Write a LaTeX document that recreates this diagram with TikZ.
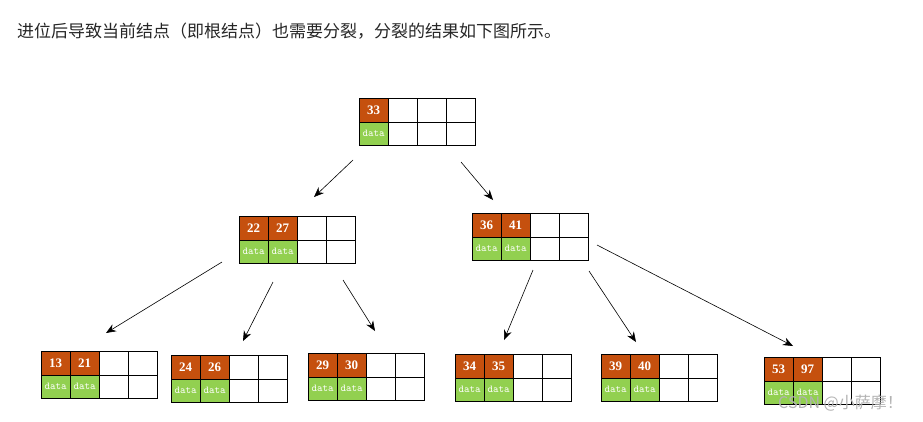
\documentclass[tikz,border=0pt]{standalone}
\usepackage{fontspec}
\usetikzlibrary{arrows.meta}
\newfontfamily\cjk{Noto Sans CJK SC}
\setmainfont{Liberation Serif}
\begin{document}
\begin{tikzpicture}[x=1pt,y=-1pt,
  keycell/.style={draw=black,fill=keyor,minimum width=29pt,minimum height=23.5pt,inner sep=0pt,text=white,font=\fontsize{13}{13}\selectfont\bfseries,anchor=north west},
  datacell/.style={draw=black,fill=datagr,minimum width=29pt,minimum height=23.5pt,inner sep=0pt,text=white,font=\fontsize{10.5}{10.5}\selectfont\ttfamily,anchor=north west},
  emptycell/.style={draw=black,fill=white,minimum width=29pt,minimum height=23.5pt,inner sep=0pt,anchor=north west},
  frame/.style={draw=black,line width=1pt,minimum width=116pt,minimum height=47pt,inner sep=0pt,anchor=north west},
  arr/.style={-{Stealth[length=10pt,width=8pt]},line width=0.6pt}]
\definecolor{keyor}{HTML}{C5500E}
\definecolor{datagr}{HTML}{92D050}
\useasboundingbox (0,0) rectangle (923,421);
\fill[white] (0,0) rectangle (923,421);
\node[anchor=west,font=\cjk\fontsize{17}{17}\selectfont,text=black!85,inner sep=0pt] (title) at (17,31) {进位后导致当前结点（即根结点）也需要分裂，分裂的结果如下图所示。};
\newcommand{\btnode}[6]{%
  \node[keycell] (#1k1) at (#2,#3) {#5};
  \ifnum#4>1 \node[keycell] (#1k2) at (#2+29,#3) {#6};\else\node[emptycell] (#1k2) at (#2+29,#3) {};\fi
  \node[emptycell] (#1k3) at (#2+58,#3) {};
  \node[emptycell] (#1k4) at (#2+87,#3) {};
  \node[datacell] (#1d1) at (#2,#3+23.5) {data};
  \ifnum#4>1 \node[datacell] (#1d2) at (#2+29,#3+23.5) {data};\else\node[emptycell] (#1d2) at (#2+29,#3+23.5) {};\fi
  \node[emptycell] (#1d3) at (#2+58,#3+23.5) {};
  \node[emptycell] (#1d4) at (#2+87,#3+23.5) {};
  \node[frame] (#1) at (#2,#3) {};
}
\btnode{root}{359}{98}{1}{33}{}
\btnode{la}{239}{216}{2}{22}{27}
\btnode{lb}{472}{213}{2}{36}{41}
\btnode{a}{41}{351}{2}{13}{21}
\btnode{b}{171}{355}{2}{24}{26}
\btnode{c}{308}{353}{2}{29}{30}
\btnode{d}{455}{354}{2}{34}{35}
\btnode{e}{601}{354}{2}{39}{40}
\btnode{f}{764}{357}{2}{53}{97}
\coordinate (r1s) at (353,160); \coordinate (r1e) at (314,197);
\coordinate (r2s) at (461,162); \coordinate (r2e) at (493,200);
\coordinate (a1s) at (222,262); \coordinate (a1e) at (106,333);
\coordinate (a2s) at (273,282); \coordinate (a2e) at (243,341);
\coordinate (a3s) at (343,280); \coordinate (a3e) at (375,331);
\coordinate (b1s) at (533,270); \coordinate (b1e) at (504,340);
\coordinate (b2s) at (589,271); \coordinate (b2e) at (636,342);
\coordinate (b3s) at (597,245); \coordinate (b3e) at (793,346);
\foreach \s/\e in {r1s/r1e,r2s/r2e,a1s/a1e,a2s/a2e,a3s/a3e,b1s/b1e,b2s/b2e,b3s/b3e}
  \draw[arr] (\s) -- (\e);
\node[anchor=west,font=\cjk\fontsize{16}{16}\selectfont,text=black!30,inner sep=0pt] (wm) at (778,403) {CSDN @小萨摩！};
\end{tikzpicture}
\end{document}
